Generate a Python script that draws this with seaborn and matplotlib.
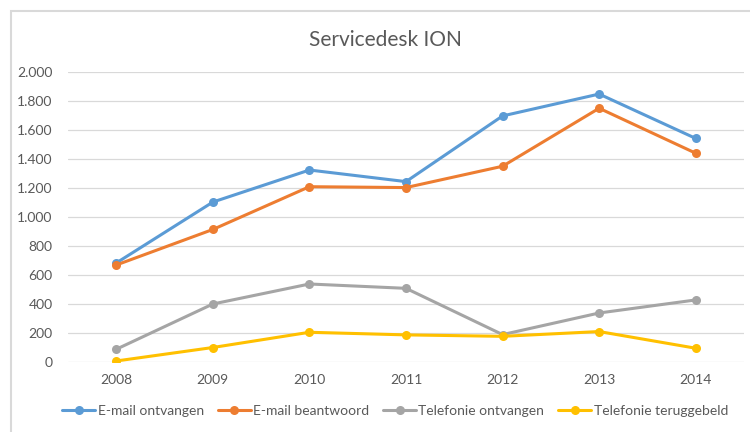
import pandas as pd
import numpy as np
import matplotlib.pyplot as plt
import seaborn as sns
from matplotlib.patches import Rectangle
from matplotlib.ticker import FuncFormatter

# data
jaren = ["2008", "2009", "2010", "2011", "2012", "2013", "2014"]
email_ontvangen = [683, 1103, 1324, 1244, 1697, 1848, 1542]
email_beantwoord = [669, 914, 1209, 1203, 1350, 1750, 1440]
telefonie_ontvangen = [88, 400, 538, 508, 189, 338, 428]
telefonie_teruggebeld = [7, 100, 205, 187, 177, 210, 95]

reeksen = ["E-mail ontvangen", "E-mail beantwoord", "Telefonie ontvangen", "Telefonie teruggebeld"]
kleuren = ["#5B9BD5", "#ED7D31", "#A5A5A5", "#FFC000"]

df = pd.DataFrame({
    "jaar": jaren * 4,
    "aantal": email_ontvangen + email_beantwoord + telefonie_ontvangen + telefonie_teruggebeld,
    "reeks": np.repeat(reeksen, len(jaren)),
})

sns.set_theme(style="white")
plt.rcParams["font.family"] = ["Lato", "DejaVu Sans"]

fig = plt.figure(figsize=(7.5, 4.32), dpi=100)
ax = fig.add_axes([68 / 750, 1 - 362 / 432, (744 - 68) / 750, (362 - 72) / 432])

sns.lineplot(
    data=df, x="jaar", y="aantal", hue="reeks",
    hue_order=reeksen, palette=kleuren, sort=False,
    marker="o", markersize=6.5, markeredgewidth=0,
    linewidth=2.2, ax=ax,
)

ax.set_xlim(-0.5, len(jaren) - 0.5)
ax.set_ylim(0, 2000)
ax.set_yticks(range(0, 2001, 200))
ax.yaxis.set_major_formatter(FuncFormatter(lambda v, p: f"{int(v):,}".replace(",", ".")))
ax.grid(axis="y", color="#D9D9D9", linewidth=0.9)
ax.set_axisbelow(True)
for s in ax.spines.values():
    s.set_visible(False)
ax.set_xlabel("")
ax.set_ylabel("")
ax.tick_params(axis="y", length=0, pad=11, labelsize=10, labelcolor="#595959")
ax.tick_params(axis="x", length=0, pad=9, labelsize=10, labelcolor="#595959")

sns.move_legend(
    ax, "center", bbox_to_anchor=(395 / 750, 1 - 411 / 432),
    bbox_transform=fig.transFigure, ncol=4, frameon=False, title=None,
    fontsize=10, handlelength=2.4, handletextpad=0.15, columnspacing=1.0,
)
for t in ax.get_legend().get_texts():
    t.set_color("#595959")

fig.text(385 / 750, 1 - 40 / 432, "Servicedesk ION", ha="center", va="center",
         fontsize=15, color="#595959")

# chart border (cut off at the right and bottom)
fig.patches.append(Rectangle((11 / 750, -0.1), 1.2, 1 - 11 / 432 + 0.1,
                             transform=fig.transFigure, fill=False,
                             edgecolor="#D9D9D9", linewidth=1.5))

fig.savefig("out.png", dpi=100)
